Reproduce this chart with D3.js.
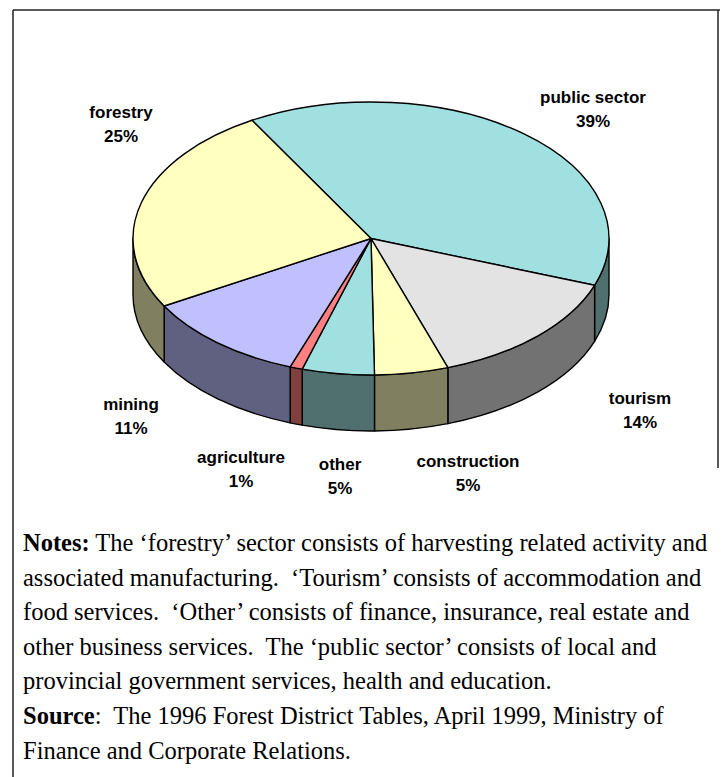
<!DOCTYPE html>
<html>
<head>
<meta charset="utf-8">
<script src="https://cdn.jsdelivr.net/npm/d3@7"></script>
<style>
body{margin:0;background:#fff;}
</style>
</head>
<body>
<svg id="chart" width="721" height="777"></svg>
<script>
//donnees
var sectors = ["public sector","tourism","construction","other","agriculture","mining","forestry"];
var shares = [38.9, 14.2, 5.0, 4.9, 0.85, 11.25, 24.9];
var topColors = ["#a0e0e0","#e3e3e3","#ffffc0","#a0e0e0","#ff8080","#c0c0ff","#ffffc0"];

var notes = [
	[["Notes:",true],[" The \u2018forestry\u2019 sector consists of harvesting related activity and",false]],
	[["associated manufacturing.  \u2018Tourism\u2019 consists of accommodation and",false]],
	[["food services.  \u2018Other\u2019 consists of finance, insurance, real estate and",false]],
	[["other business services.  The \u2018public sector\u2019 consists of local and",false]],
	[["provincial government services, health and education.",false]],
	[["Source",true],[":  The 1996 Forest District Tables, April 1999, Ministry of",false]],
	[["Finance and Corporate Relations.",false]]
];

//mise en page
var cx = 371, cy = 238.5, rx = 238, ry = 136.5, depth = 56;
var labelXY = [[593,103],[640,404],[468,467],[340,470],[241,463],[131,410],[121,118]];
var notesX = 23, notesY = 551, notesStep = 34.6;

var svg = d3.select("#chart");

//cadre
svg.append("line").attr("x1",13).attr("x2",720).attr("y1",10).attr("y2",10)
	.attr("stroke","#222").attr("stroke-width",1.5);
svg.append("line").attr("x1",13).attr("x2",13).attr("y1",10).attr("y2",777)
	.attr("stroke","#222").attr("stroke-width",1.5);
svg.append("line").attr("x1",718).attr("x2",718).attr("y1",10).attr("y2",468)
	.attr("stroke","#222").attr("stroke-width",1.5);

var pie = d3.pie().sort(null)
	.startAngle(-30*Math.PI/180)
	.endAngle(330*Math.PI/180);
var arcs = pie(shares);
var total = d3.sum(shares);
var pct = d3.format(".0%");

function pt(a, dy){
	return (cx + rx*Math.sin(a)) + "," + (cy - ry*Math.cos(a) + (dy||0));
}

function sidePath(d){
	var s = Math.max(d.startAngle, Math.PI/2);
	var e = Math.min(d.endAngle, 3*Math.PI/2);
	if(e <= s) return null;
	return "M" + pt(s) + " A" + rx + "," + ry + " 0 0 1 " + pt(e)
		+ " L" + pt(e, depth) + " A" + rx + "," + ry + " 0 0 0 " + pt(s, depth) + " Z";
}

function topPath(d){
	var large = (d.endAngle - d.startAngle) > Math.PI ? 1 : 0;
	return "M" + cx + "," + cy + " L" + pt(d.startAngle)
		+ " A" + rx + "," + ry + " 0 " + large + " 1 " + pt(d.endAngle) + " Z";
}

function sideColor(c){
	var r = d3.rgb(c);
	return d3.rgb(r.r*0.5, r.g*0.5, r.b*0.5);
}

//cotes
svg.append("g").attr("id","sides")
	.selectAll("path")
	.data(arcs.filter(function(d){ return sidePath(d) != null; }))
	.enter().append("path")
	.attr("d", sidePath)
	.attr("fill", function(d){ return sideColor(topColors[d.index]); })
	.attr("stroke","#000")
	.attr("stroke-width",1.4)
	.attr("stroke-linejoin","round");

//dessus
svg.append("g").attr("id","tops")
	.selectAll("path")
	.data(arcs)
	.enter().append("path")
	.attr("d", topPath)
	.attr("fill", function(d){ return topColors[d.index]; })
	.attr("stroke","#000")
	.attr("stroke-width",1.4)
	.attr("stroke-linejoin","round");

//etiquettes
var lab = svg.append("g").attr("id","labels")
	.selectAll("text")
	.data(arcs)
	.enter().append("text")
	.attr("text-anchor","middle")
	.attr("font-family","'Liberation Sans', Arial, sans-serif")
	.attr("font-weight","bold")
	.attr("font-size","17px")
	.attr("fill","#000");
lab.append("tspan")
	.attr("x", function(d){ return labelXY[d.index][0]; })
	.attr("y", function(d){ return labelXY[d.index][1]; })
	.text(function(d){ return sectors[d.index]; });
lab.append("tspan")
	.attr("x", function(d){ return labelXY[d.index][0]; })
	.attr("y", function(d){ return labelXY[d.index][1] + 24; })
	.text(function(d){ return pct(d.value/total); });

//notes
var nt = svg.append("g").attr("id","notes")
	.selectAll("text")
	.data(notes)
	.enter().append("text")
	.attr("x", notesX)
	.attr("y", function(d,i){ return notesY + i*notesStep; })
	.attr("font-family","'Liberation Serif', 'Times New Roman', serif")
	.attr("font-size","24.5px")
	.style("white-space","pre")
	.attr("fill","#000");
nt.selectAll("tspan")
	.data(function(d){ return d; })
	.enter().append("tspan")
	.attr("font-weight", function(d){ return d[1] ? "bold" : "normal"; })
	.text(function(d){ return d[0]; });
</script>
</body>
</html>
